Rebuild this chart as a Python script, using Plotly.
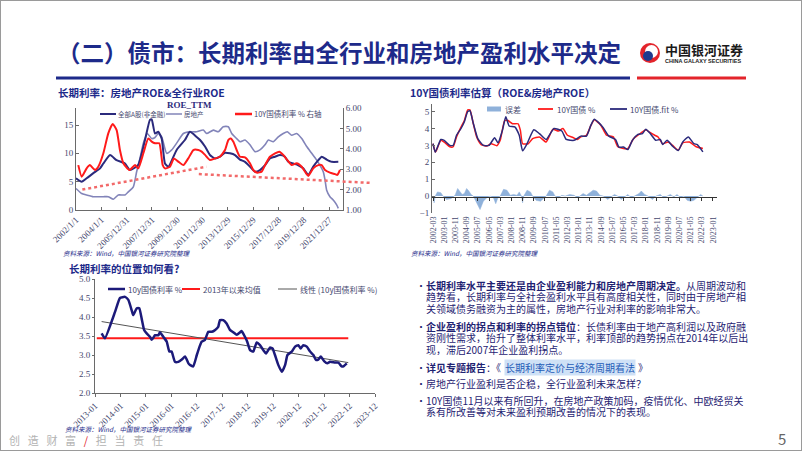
import plotly.graph_objects as go

W, H = 802, 451
def fx(p): return p / W
def fy(p): return 1 - p / H

# ---------------- Chart 1: ROE_TTM vs 10Y yield ----------------
c1_ticktext = ['2002/1/1', '2004/1/1', '2005/12/31', '2007/12/31', '2009/12/30', '2011/12/30',
               '2013/12/29', '2015/12/29', '2017/12/28', '2019/12/28', '2021/12/27']
c1_tickvals = [2002, 2004, 2006, 2008, 2010, 2012, 2014, 2016, 2018, 2020, 2022]

roe_all_year = [2002.0, 2002.45, 2002.84, 2003.37, 2003.9, 2004.16, 2004.69, 2005.2, 2005.87, 2006.26,
                2006.9, 2007.45, 2007.84, 2007.98, 2008.24, 2008.5, 2008.77, 2009.03, 2009.3, 2009.95,
                2010.6, 2011.0, 2011.53, 2011.8, 2012.19, 2012.58, 2012.98, 2013.37, 2013.77, 2014.16,
                2014.56, 2014.95, 2015.35, 2015.74, 2016.14, 2016.53, 2016.93, 2017.32, 2017.72, 2018.11,
                2018.5, 2018.77, 2019.16, 2019.56, 2019.95, 2020.35, 2020.74, 2021.14, 2021.41, 2021.8,
                2022.2, 2022.72]
roe_all = [5.6, 5.0, 5.6, 6.5, 7.35, 8.2, 9.7, 8.8, 8.2, 7.05,
           7.9, 12.35, 15.9, 16.0, 13.5, 13.8, 12.6, 8.2, 7.65, 10.6,
           12.35, 13.8, 12.9, 12.35, 11.2, 9.7, 9.1, 9.4, 10.1, 10.0,
           9.7, 8.9, 8.5, 7.65, 6.75, 7.05, 7.9, 9.1, 9.4, 9.7,
           9.4, 8.5, 8.2, 7.9, 7.35, 6.2, 7.65, 8.8, 9.4, 8.9,
           8.5, 8.5]

roe_re_year = [2002.0, 2002.45, 2002.84, 2003.37, 2004.16, 2004.55, 2004.95, 2005.34, 2005.87, 2006.13,
               2006.53, 2006.79, 2007.05, 2007.32, 2007.63, 2007.98, 2008.24, 2008.5, 2008.77, 2009.16,
               2009.56, 2009.95, 2010.48, 2011.0, 2011.53, 2012.05, 2012.32, 2012.85, 2013.24, 2013.63,
               2014.03, 2014.3, 2014.69, 2014.95, 2015.35, 2015.74, 2016.14, 2016.53, 2016.93, 2017.19,
               2017.58, 2017.98, 2018.37, 2018.69, 2019.04, 2019.43, 2019.83, 2020.22, 2020.62, 2021.01,
               2021.33, 2021.53, 2021.67, 2021.8, 2022.06, 2022.32, 2022.59, 2022.72]
roe_re = [3.8, 2.9, 2.65, 2.35, 2.35, 2.35, 1.9, 2.65, 2.65, 3.2,
          4.1, 6.75, 9.1, 11.8, 13.5, 12.6, 12.8, 13.5, 12.9, 10.0,
          10.6, 11.8, 13.5, 13.8, 13.8, 14.1, 13.5, 14.1, 13.8, 14.7,
          14.7, 13.5, 12.6, 12.05, 12.35, 11.5, 10.3, 10.6, 11.5, 12.35,
          12.05, 12.9, 13.5, 13.8, 13.2, 13.5, 12.6, 11.2, 10.0, 8.8,
          7.65, 6.75, 5.3, 3.5, 2.35, 1.75, 0.9, 0.3]

yld_year = [2002.18, 2002.45, 2002.84, 2003.1, 2003.5, 2003.76, 2004.16, 2004.55, 2004.9, 2005.21,
            2005.47, 2005.74, 2006.21, 2006.66, 2006.92, 2007.32, 2007.71, 2007.98, 2008.24, 2008.58,
            2008.85, 2009.03, 2009.42, 2009.74, 2010.08, 2010.48, 2010.87, 2011.27, 2011.66, 2011.93,
            2012.19, 2012.58, 2012.98, 2013.37, 2013.77, 2014.03, 2014.22, 2014.43, 2014.69, 2014.95,
            2015.35, 2015.74, 2016.0, 2016.32, 2016.66, 2016.93, 2017.32, 2017.72, 2018.06, 2018.37,
            2018.69, 2019.04, 2019.43, 2019.83, 2020.17, 2020.35, 2020.74, 2021.14, 2021.41, 2021.67,
            2022.06, 2022.46, 2022.64, 2022.85]
yld = [3.2, 2.63, 3.04, 3.2, 2.96, 3.12, 3.78, 4.76, 5.22, 4.92,
       3.94, 3.29, 2.96, 3.2, 3.04, 3.78, 4.51, 4.35, 4.27, 4.27,
       3.2, 3.04, 3.12, 3.53, 3.37, 3.2, 3.53, 3.94, 3.94, 3.86,
       3.7, 3.45, 3.53, 3.61, 3.94, 4.43, 4.51, 4.35, 3.94, 3.61,
       3.58, 3.29, 2.96, 2.83, 2.88, 3.2, 3.61, 3.78, 3.86, 3.7,
       3.45, 3.2, 3.29, 3.12, 2.8, 2.67, 3.04, 3.2, 3.2, 2.96,
       2.83, 2.76, 2.72, 2.96]

trend_up_year = [2002.5, 2012.3]
trend_up = [2.0, 3.12]
trend_down_year = [2011.7, 2025.2]
trend_down = [2.76, 2.33]

# ---------------- Chart 2: 10Y estimate ----------------
est_ticktext = ['2002-03', '2003-01', '2003-11', '2004-09', '2005-07', '2006-05', '2007-03', '2008-01',
                '2008-11', '2009-09', '2010-07', '2011-05', '2012-03', '2013-01', '2013-11', '2014-09',
                '2015-07', '2016-05', '2017-03', '2018-01', '2018-11', '2019-09', '2020-07', '2021-05',
                '2022-03', '2023-01']
est_tickvals = list(range(0, 260, 10))   # months since 2002-03

est_red_m = [0, 2, 3, 7, 10, 15, 18, 21, 25, 28, 31, 33, 36, 39, 43, 48, 52, 57, 60, 64, 67, 71, 76, 78, 80,
             85, 89, 95, 101, 107, 112, 116, 120, 125, 129, 132, 137, 141, 144, 147, 150, 155, 161, 165, 170,
             174, 179, 183, 187, 190, 193, 198, 201, 205, 210, 214, 219, 223, 229, 235, 241]
est_red = [3.1, 2.63, 2.7, 3.3, 3.2, 2.92, 2.92, 3.5, 4.08, 4.47, 5.1, 5.1, 4.28, 3.5, 3.05, 2.96, 3.1, 2.98,
           3.3, 4.47, 4.47, 4.28, 4.28, 3.9, 3.1, 3.1, 3.4, 3.5, 3.2, 3.95, 3.85, 4.0, 3.6, 3.47, 3.35,
           3.5, 3.6, 4.18, 4.51, 4.38, 4.18, 3.6, 3.5, 2.92, 2.82, 2.82, 3.4, 3.6, 3.8, 3.93, 3.8, 3.6, 3.5,
           3.1, 3.2, 3.0, 2.72, 3.15, 3.2, 2.92, 2.82]

est_fit_m = [0, 2, 7, 10, 15, 18, 21, 25, 28, 31, 33, 36, 40, 45, 50, 55, 58, 62, 65, 68, 73, 77, 80, 84, 90,
             95, 101, 108, 115, 119, 126, 132, 137, 141, 144, 148, 152, 157, 163, 166, 170, 174, 178, 183,
             187, 190, 194, 199, 203, 205, 209, 214, 219, 223, 228, 233, 236, 241]
est_fit = [3.1, 2.6, 3.35, 3.3, 3.0, 3.0, 3.6, 4.0, 4.4, 5.0, 5.05, 4.3, 3.4, 3.0, 3.0, 3.45, 3.15, 3.9, 4.7,
           4.15, 4.1, 3.6, 2.68, 3.1, 3.93, 3.7, 3.35, 4.0, 3.85, 3.35, 3.3, 3.55, 3.55, 4.2, 4.55, 4.35,
           4.05, 3.55, 3.35, 2.9, 2.9, 2.75, 3.3, 3.65, 3.7, 3.95, 3.7, 3.3, 3.35, 3.05, 3.3, 2.95, 2.7,
           3.2, 3.5, 3.1, 3.05, 2.62]

err_m = [0, 1, 2, 4, 7, 9, 12, 16, 19, 20, 22, 24, 26, 28, 30, 32, 34, 36, 39, 42, 45, 48, 51, 54, 56, 58,
         60, 63, 66, 69, 72, 75, 77, 79, 80, 81, 84, 87, 89, 92, 96, 99, 101, 104, 107, 109, 112, 115, 118,
         122, 126, 129, 131, 134, 137, 140, 143, 146, 149, 152, 156, 159, 162, 165, 168, 171, 174, 177,
         180, 184, 186, 189, 192, 196, 199, 203, 206, 209, 212, 215, 218, 221, 224, 227, 230, 233, 236,
         239, 241]
err = [0, -0.4, 0, 0.25, 0.2, 0, -0.2, -0.15, 0, 0.1, 0.45, 0.3, 0.1, 0.15, 0.45, 0.3, 0.1, 0, -0.4, -0.8,
       -0.3, -0.1, 0, -0.1, -0.45, -0.1, 0, 0.4, 0.35, 0.05, 0.1, 0.05, 0.25, 0, -0.4, 0, 0.35, 0.25, 0,
       -0.25, -0.3, -0.15, 0, 0.35, 0.25, 0, -0.1, 0.05, 0, 0.1, 0.05, -0.1, 0, 0.15, 0.05, 0.2, 0.35,
       0.3, 0.05, 0, -0.2, -0.05, 0.1, 0, -0.2, -0.05, 0.1, -0.1, 0, 0.15, 0.3, 0.1, 0, -0.2, 0, 0.1,
       -0.1, 0, 0.1, -0.05, 0.1, -0.1, 0, -0.25, -0.3, -0.25, -0.05, 0.1, 0]

# ---------------- Chart 3: 10y yield position ----------------
c3_ticktext = ['2013-01', '2014-01', '2015-01', '2016-01', '2016-12', '2017-12', '2018-12', '2019-12',
               '2020-12', '2021-12', '2022-12', '2023-12']
c3_tickvals = list(range(2013, 2025))

rate3_year = [2013.26, 2013.39, 2013.79, 2013.98, 2014.18, 2014.31, 2014.44, 2014.5, 2014.64, 2014.74,
              2014.83, 2014.93, 2015.03, 2015.16, 2015.23, 2015.36, 2015.49, 2015.55, 2015.68, 2015.82,
              2015.92, 2016.01, 2016.14, 2016.27, 2016.41, 2016.54, 2016.67, 2016.73, 2016.86, 2017.0,
              2017.13, 2017.19, 2017.32, 2017.45, 2017.59, 2017.72, 2017.84, 2017.91, 2018.04, 2018.17,
              2018.3, 2018.43, 2018.57, 2018.7, 2018.76, 2018.89, 2018.98, 2019.09, 2019.22, 2019.35,
              2019.48, 2019.61, 2019.72, 2019.88, 2019.98, 2020.07, 2020.2, 2020.34, 2020.47, 2020.56,
              2020.73, 2020.86, 2020.99, 2021.08, 2021.18, 2021.32, 2021.45, 2021.58, 2021.68, 2021.77,
              2021.87, 2022.0, 2022.13, 2022.23, 2022.43, 2022.56, 2022.69, 2022.76, 2022.89]
rate3 = [3.57, 3.44, 4.14, 4.5, 4.53, 4.45, 4.18, 4.05, 4.23, 4.23,
         3.97, 3.66, 3.57, 3.48, 3.4, 3.52, 3.52, 3.6, 3.48, 3.35,
         3.09, 3.09, 2.82, 2.82, 2.88, 2.96, 2.78, 2.74, 2.7, 3.0,
         3.26, 3.35, 3.4, 3.61, 3.61, 3.66, 3.74, 3.92, 3.92, 3.83,
         3.66, 3.6, 3.53, 3.6, 3.63, 3.48, 3.35, 3.13, 3.09, 3.33,
         3.26, 3.13, 3.04, 3.2, 3.17, 3.0, 2.74, 2.56, 2.74, 3.0,
         3.09, 3.22, 3.26, 3.17, 3.26, 3.22, 3.09, 3.0, 2.87, 2.88,
         2.96, 2.84, 2.78, 2.82, 2.8, 2.8, 2.7, 2.7, 2.78]
mean3_year = [2013.07, 2022.95]
mean3 = [3.44, 3.44]
lin3_year = [2013.26, 2022.95]
lin3 = [3.88, 2.8]

# ---------------- styles ----------------
NAVY = '#2b2a7c'
LAV = '#8284b9'
RED = '#ff1a1a'
TXT = '#45486e'
TITLE = '#1d2a8a'
BODY = '#1f2372'
TICKF = 'Liberation Serif, Noto Sans CJK SC, serif'
CJK = 'Noto Sans CJK SC, sans-serif'

fig = go.Figure()
sp = dict(mode='lines', showlegend=False, hoverinfo='skip')

fig.add_trace(go.Scatter(x=roe_re_year, y=roe_re, xaxis='x', yaxis='y',
                         line=dict(color=LAV, width=1.6, shape='spline', smoothing=0.5), **sp))
fig.add_trace(go.Scatter(x=roe_all_year, y=roe_all, xaxis='x', yaxis='y',
                         line=dict(color=NAVY, width=2, shape='spline', smoothing=0.5), **sp))
fig.add_trace(go.Scatter(x=yld_year, y=yld, xaxis='x', yaxis='y2',
                         line=dict(color=RED, width=2, shape='spline', smoothing=0.5), **sp))
fig.add_trace(go.Scatter(x=trend_up_year, y=trend_up, xaxis='x2', yaxis='y3',
                         line=dict(color='#f26a6a', width=2.5, dash='dot'), **sp))
fig.add_trace(go.Scatter(x=trend_down_year, y=trend_down, xaxis='x2', yaxis='y3',
                         line=dict(color='#f26a6a', width=2.5, dash='dot'), **sp))

fig.add_trace(go.Scatter(x=err_m, y=err, xaxis='x3', yaxis='y4', fill='tozeroy',
                         fillcolor='#8fb1da', line=dict(color='#8fb1da', width=0.5), **sp))
fig.add_trace(go.Scatter(x=est_red_m, y=est_red, xaxis='x3', yaxis='y4',
                         line=dict(color=RED, width=1.5, shape='spline', smoothing=0.5), **sp))
fig.add_trace(go.Scatter(x=est_fit_m, y=est_fit, xaxis='x3', yaxis='y4',
                         line=dict(color=NAVY, width=1.5, shape='spline', smoothing=0.5), **sp))
fig.add_trace(go.Scatter(x=[None], y=[None], xaxis='x4', yaxis='y4', **sp))

fig.add_trace(go.Scatter(x=mean3_year, y=mean3, xaxis='x5', yaxis='y5',
                         line=dict(color=RED, width=2), **sp))
fig.add_trace(go.Scatter(x=lin3_year, y=lin3, xaxis='x5', yaxis='y5',
                         line=dict(color='#555555', width=1), **sp))
fig.add_trace(go.Scatter(x=rate3_year, y=rate3, xaxis='x5', yaxis='y5',
                         line=dict(color='#1c1a7a', width=2.5, shape='spline', smoothing=0.4), **sp))

tf = dict(family=TICKF, size=9, color=TXT)
ax_common = dict(showgrid=False, zeroline=False, showline=True, linecolor='#6a6a6a', linewidth=1,
                 tickcolor='#6a6a6a', tickfont=tf, automargin=False)

layout = dict(
    width=W, height=H, autosize=False,
    margin=dict(l=0, r=0, t=0, b=0, pad=0, autoexpand=False),
    paper_bgcolor='white', plot_bgcolor='rgba(0,0,0,0)', showlegend=False,
    xaxis=dict(domain=[fx(76), fx(343)], range=[2002, 2023.09], anchor='y',
               tickvals=c1_tickvals, ticktext=c1_ticktext, tickangle=-45,
               ticks='inside', ticklen=3, **ax_common),
    yaxis=dict(domain=[fy(210), fy(108)], range=[0, 18], anchor='x',
               tickvals=[0, 5, 10, 15], ticks='inside', ticklen=3, **ax_common),
    yaxis2=dict(overlaying='y', side='right', range=[1, 6], anchor='x',
                tickvals=[1, 2, 3, 4, 5, 6], tickformat='.2f', ticks='inside', ticklen=3, **ax_common),
    xaxis2=dict(domain=[fx(76), fx(372)], range=[2002, 2025.38], anchor='y3', visible=False,
                automargin=False),
    yaxis3=dict(domain=[fy(210), fy(108)], range=[1, 6], anchor='x2', visible=False, automargin=False),
    xaxis3=dict(domain=[fx(432), fx(717)], range=[-0.9, 253.6], anchor='free', position=fy(197),
                tickvals=est_tickvals, showticklabels=False, ticks='outside', ticklen=3,
                showgrid=False, zeroline=False, showline=True, linecolor='#333333', linewidth=1,
                tickcolor='#333333', automargin=False),
    xaxis4=dict(overlaying='x3', range=[-0.9, 253.6], anchor='free', position=fy(214),
                tickvals=est_tickvals, ticktext=est_ticktext, tickangle=-90, ticks='',
                showline=False, showgrid=False, zeroline=False, automargin=False,
                tickfont=dict(family=TICKF, size=8, color=TXT)),
    yaxis4=dict(domain=[fy(213), fy(104)], range=[-1, 5.45], anchor='x3',
                tickvals=[-1, 0, 1, 2, 3, 4, 5], ticks='inside', ticklen=3, **ax_common),
    xaxis5=dict(domain=[fx(95), fx(375)], range=[2013, 2024], anchor='y5',
                tickvals=c3_tickvals, ticktext=c3_ticktext, tickangle=-45,
                ticks='outside', ticklen=3, **ax_common),
    yaxis5=dict(domain=[fy(393), fy(279)], range=[2, 5], anchor='x5',
                tickvals=[2, 2.5, 3, 3.5, 4, 4.5, 5], tickformat='.1f',
                ticks='outside', ticklen=2, **ax_common),
)
fig.update_layout(**layout)

ann = []
def T(x, y, text, size=10, color=BODY, family=CJK, xanchor='left', yanchor='middle', **kw):
    ann.append(dict(x=fx(x), y=fy(y), xref='paper', yref='paper', text=text, showarrow=False,
                    xanchor=xanchor, yanchor=yanchor, font=dict(size=size, color=color, family=family), **kw))

shapes = []
def L(x0, x1, y, color, width, dash='solid'):
    shapes.append(dict(type='line', xref='paper', yref='paper', x0=fx(x0), x1=fx(x1), y0=fy(y), y1=fy(y),
                       line=dict(color=color, width=width, dash=dash)))

# slide frame, title and logo
shapes.append(dict(type='rect', xref='paper', yref='paper', x0=0, x1=1, y0=0, y1=1,
                   line=dict(color='#9a9a9a', width=2)))
T(55, 52, '<b>（二）债市：长期利率由全行业和房地产盈利水平决定</b>', size=23.5, color=TITLE)
L(56, 630, 78, TITLE, 3)
L(637, 746, 78, '#e3242b', 3)
shapes.append(dict(type='circle', xref='paper', yref='paper', x0=fx(640), x1=fx(660), y0=fy(63), y1=fy(43),
                   fillcolor='#e3242b', line=dict(width=0)))
shapes.append(dict(type='circle', xref='paper', yref='paper', x0=fx(645), x1=fx(658), y0=fy(58), y1=fy(45),
                   fillcolor='white', line=dict(width=0)))
shapes.append(dict(type='circle', xref='paper', yref='paper', x0=fx(643), x1=fx(653), y0=fy(61), y1=fy(51),
                   fillcolor='#1d3a8f', line=dict(width=0)))
T(663, 49, '<b>中国银河证券</b>', size=13, color='#1a1a1a')
T(663, 61, '<b>CHINA GALAXY SECURITIES</b>', size=5.5, color='#1a1a1a', family='Liberation Sans, sans-serif')

# chart titles
T(56, 92, '<b>长期利率：房地产ROE&全行业ROE</b>', size=10.5, color=TITLE)
T(408, 92, '<b>10Y国债利率估算（ROE&房地产ROE）</b>', size=10.5, color=TITLE)
T(67, 268, '<b>长期利率的位置如何看?</b>', size=10.5, color=TITLE)

# chart 1 legend
T(189, 105, '<b>ROE_TTM</b>', size=9, color=NAVY, family=TICKF, xanchor='center')
L(100, 116, 114, NAVY, 2)
T(116, 114, '全部A股(非金融)', size=6.5, color=TXT)
L(166, 182, 114, LAV, 1.5)
T(182, 114, '房地产', size=6.5, color=TXT)
L(235, 252, 114, RED, 2.5)
T(252, 114, '10Y国债利率 % 右轴', size=7.5, color=TXT)

# chart 2 legend
L(487, 501, 109, '#8fb1da', 5)
T(503, 109, '误差', size=8, color=TXT)
L(538, 553, 109, RED, 1.8)
T(555, 109, '10Y国债 %', size=8, color=TXT)
L(610, 627, 109, NAVY, 1.8)
T(628, 109, '10Y国债.fit %', size=8, color=TXT)

# chart 3 legend
L(108, 125, 289, '#1c1a7a', 2.5)
T(126, 289, '10y国债利率 %', size=8, color=TXT)
L(182, 200, 289, RED, 2)
T(201, 289, '2013年以来均值', size=8, color=TXT)
L(278, 297, 289, '#555555', 1)
T(298, 289, '线性 (10y国债利率 %)', size=8, color=TXT)

# sources
src = '<i>资料来源：Wind，中国银河证券研究院整理</i>'
T(61, 253, src, size=6.5, color=TITLE)
T(409, 253, src, size=6.5, color=TITLE)
T(63, 429, src, size=6.5, color=TITLE)

# bullet text
lines = [
    (285, '<b>长期利率水平主要还是由企业盈利能力和房地产周期决定。</b>从周期波动和', True),
    (296.5, '趋势看，长期利率与全社会盈利水平具有高度相关性，同时由于房地产相', False),
    (308, '关领域债务融资为主的属性，房地产行业对利率的影响非常大。', False),
    (326, '<b>企业盈利的拐点和利率的拐点错位</b>：长债利率由于地产高利润以及政府融', True),
    (337.5, '资刚性需求，抬升了整体利率水平，利率顶部的趋势拐点在2014年以后出', False),
    (349, '现，滞后2007年企业盈利拐点。', False),
    (383.5, '房地产行业盈利是否企稳，全行业盈利未来怎样？', True),
    (400, '10Y国债11月以来有所回升，在房地产政策加码，疫情优化、中欧经贸关', True),
    (411.5, '系有所改善等对未来盈利预期改善的情况下的表现。', False),
]
for y, t, bullet in lines:
    if bullet:
        T(414, y, '•', size=10, color=BODY)
    T(424, y, t, size=10, color=BODY, height=11)
T(414, 367, '•', size=10, color=BODY)
T(424, 367, '<b>详见专题报告</b>：《', size=10, color=BODY)
T(504, 367, '长期利率定价与经济周期看法', size=10, color='#1f5cb8', bgcolor='#cfe1f6', borderpad=0)
T(636, 367, '》', size=10, color=BODY)

# footer
sep = '\u2002\u2009'
footer = sep.join(['创', '造', '财', '富']) + sep + '<span style="color:#e3242b">/</span>' + sep + \
    sep.join(['担', '当', '责', '任'])
T(7, 440, footer, size=11, color='#b3b3b3')
T(788, 438, '5', size=15, color='#666666', xanchor='right')

fig.update_layout(annotations=ann, shapes=shapes)
fig.write_html('out.html',
               config={'displayModeBar': False, 'staticPlot': True},
               post_script="document.body.style.margin='0px';document.body.style.padding='0px';"
                           "document.body.style.overflow='hidden';")
